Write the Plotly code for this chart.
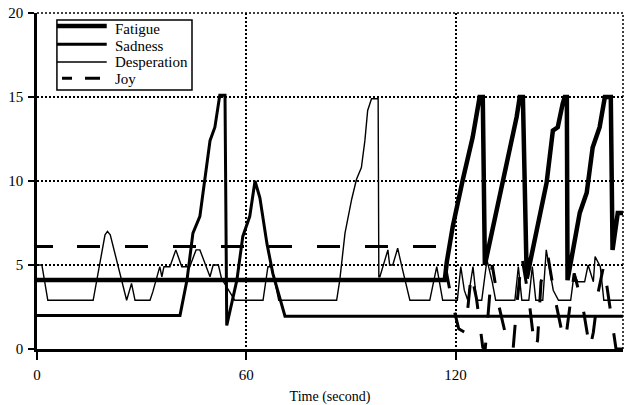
import plotly.graph_objects as go

# ---- data ----
fatigue_x = [0, 116.9, 117.5, 119.2, 122.1, 124.9, 126.9, 127.8, 128.4, 131.2, 133.2, 135.5, 137.5,
             138.4, 139.3, 140.4, 144.1, 146.1, 147.9, 149.3, 150.7, 151.3, 151.9, 152.1, 155.6,
             157.6, 159.3, 161.3, 162.8, 164.5, 165.0, 166.5, 168]
fatigue_y = [4.1, 4.1, 5.2, 7.3, 10.1, 12.6, 15, 15, 5.0, 7.7, 9.5, 12.0, 13.8,
             15, 15, 4.2, 8.1, 9.9, 13.0, 13.2, 14.6, 15, 15, 4.1, 8.1,
             9.3, 12.0, 13.2, 15, 15, 5.9, 8.1, 8.1]

sadness_x = [0, 41.0, 43.0, 44.7, 46.7, 48.1, 49.6, 51.0, 52.4, 53.9, 54.4, 57.3, 59.0, 61.0,
             62.5, 63.9, 65.9, 67.6, 71.1, 168]
sadness_y = [2.0, 2.0, 4.1, 6.9, 7.9, 10.1, 12.4, 13.2, 15.1, 15.1, 1.4, 4.1, 6.7, 7.9,
             10.0, 9.0, 6.3, 4.5, 1.95, 1.95]

desperation_x = [0, 1.4, 3.1, 16.1, 19.5, 20.2, 21.0, 25.7, 27.1, 28.1, 32.4, 33.2, 35.2, 35.8,
                 36.4, 38.1, 39.8, 41.5, 43.8, 45.6, 46.7, 48.4, 49.6, 50.5, 52.0, 52.9, 56.7,
                 64.8, 66.2, 67.3, 69.3, 85.9, 86.8, 88.3, 90.2, 91.6, 93.0, 94.0, 94.8, 95.9,
                 97.8, 98.0, 98.3, 100.6, 101.1, 102.0, 103.4, 104.6, 106.9, 112.6, 114.6, 116.3,
                 120.5, 121.5, 122.5, 123.5, 125.0, 126.0, 127.5, 129.0, 130.5, 131.5, 137.0,
                 138.0, 139.0, 141.0, 142.0, 143.0, 145.0, 146.0, 148.0, 149.5, 153.0, 154.0,
                 155.0, 157.0, 158.0, 159.5, 160.0, 161.5, 162.5, 168]
desperation_y = [5.0, 5.0, 2.9, 2.9, 6.8, 7.0, 6.8, 2.9, 3.9, 2.9, 2.9, 3.4, 4.9, 4.3,
                 4.9, 4.9, 5.9, 4.9, 4.9, 5.9, 5.9, 4.9, 4.3, 5.0, 5.0, 4.2, 2.9,
                 2.9, 4.9, 4.9, 2.9, 2.9, 4.1, 6.9, 8.9, 10.1, 10.8, 12.4, 14.2, 14.9,
                 14.9, 4.3, 4.3, 5.9, 5.0, 5.0, 6.0, 4.9, 2.9, 2.9, 4.9, 2.9,
                 2.9, 4.9, 3.5, 2.9, 4.9, 2.9, 2.9, 5.3, 4.0, 2.9, 2.9,
                 4.9, 2.9, 2.9, 4.9, 2.9, 2.9, 5.9, 3.5, 2.9, 2.9, 4.5,
                 4.0, 4.0, 5.0, 4.0, 5.5, 4.9, 2.9, 2.9]

joy_x = [0, 116.0, 118.9, 120.9, 122.6, 123.5, 124.5, 126.0, 127.8, 128.5, 129.5, 130.5, 132.5,
         135.3, 136.5, 137.5, 139.0, 141.0, 142.7, 143.5, 144.5, 146.5, 148.5, 150.5, 151.5,
         152.5, 154.0, 156.5, 158.5, 159.5, 161.0, 162.5, 164.5, 166.0, 168]
joy_y = [6.1, 6.1, 2.9, 1.2, 1.0, 2.4, 4.5, 3.0, 0.1, 0.0, 2.5, 5.0, 2.5,
         0.0, 0.0, 2.5, 5.5, 3.0, 0.0, 0.5, 4.0, 5.5, 3.0, 1.0, 0.5,
         2.0, 4.5, 2.5, 0.0, 1.0, 3.5, 5.0, 2.0, 0.0, 0.0]

series_names = ["Fatigue", "Sadness", "Desperation", "Joy"]
x_ticks = [0, 60, 120]
y_ticks = [0, 5, 10, 15, 20]
x_title = "Time (second)"

FONT = "Liberation Serif, Times New Roman, DejaVu Serif, serif"
joy_dash = "16px,24px," + ",".join(["23px,25px"] * 20)

styles = [
    dict(color="black", width=4.5),
    dict(color="black", width=3),
    dict(color="black", width=1.4),
    dict(color="black", width=3, dash=joy_dash),
]
legend_styles = [
    dict(color="black", width=4.5),
    dict(color="black", width=3),
    dict(color="black", width=1.4),
    dict(color="black", width=3, dash="10px,13px,15px,20px"),
]

fig = go.Figure()
for name, xs, ys, st in zip(series_names,
                            [fatigue_x, sadness_x, desperation_x, joy_x],
                            [fatigue_y, sadness_y, desperation_y, joy_y],
                            styles):
    fig.add_trace(go.Scatter(x=xs, y=ys, mode="lines", name=name, line=st,
                             showlegend=False))

# dotted frame on top / right
fig.add_shape(type="line", xref="paper", yref="paper", x0=1, x1=1, y0=0, y1=1,
              line=dict(color="black", width=1.5, dash="2px,2px"))
fig.add_shape(type="line", xref="paper", yref="paper", x0=0, x1=1, y0=1, y1=1,
              line=dict(color="black", width=1.5, dash="2px,2px"))

# legend box drawn by hand (compact line spacing as in the reference)
LEG_X0, LEG_X1, LEG_Y0, LEG_Y1 = 0.034, 0.2645, 0.771, 0.979
SW_X0 = [0.034, 0.034, 0.034, 0.0427]
SW_X1 = [0.119, 0.119, 0.119, 0.1075]
ROW_Y = [0.961, 0.907, 0.854, 0.806]
TXT_Y = [0.952, 0.901, 0.854, 0.803]
fig.add_shape(type="rect", xref="paper", yref="paper", x0=LEG_X0, x1=LEG_X1, y0=LEG_Y0, y1=LEG_Y1,
              line=dict(color="black", width=1.5), fillcolor="white", layer="above")
for i, name in enumerate(series_names):
    fig.add_shape(type="line", xref="paper", yref="paper", x0=SW_X0[i], x1=SW_X1[i],
                  y0=ROW_Y[i], y1=ROW_Y[i], line=legend_styles[i], layer="above")
    fig.add_annotation(xref="paper", yref="paper", x=0.1297, y=TXT_Y[i], text=name,
                       showarrow=False, xanchor="left", yanchor="middle",
                       font=dict(family=FONT, size=15, color="black"))

fig.update_layout(
    width=625, height=405,
    margin=dict(l=37, r=2, t=13, b=56),
    plot_bgcolor="white", paper_bgcolor="white",
    font=dict(family=FONT, color="black", size=15),
    showlegend=False,
)
fig.update_xaxes(range=[0, 168], tickvals=x_ticks, ticktext=[str(v) for v in x_ticks],
                 tickfont=dict(family=FONT, size=15, color="black"),
                 ticks="outside", ticklen=8, tickwidth=2, tickcolor="black",
                 showline=True, linecolor="black", linewidth=2.5,
                 showgrid=True, gridcolor="black", gridwidth=1.5, griddash="2px,2px",
                 zeroline=False, ticklabelstandoff=2, automargin=False,
                 ticklabeloverflow="allow",
                 title=dict(text=x_title, font=dict(size=14, family=FONT), standoff=10))
fig.update_yaxes(range=[0, 20], tickvals=y_ticks, ticktext=[str(v) for v in y_ticks],
                 tickfont=dict(family=FONT, size=15, color="black"),
                 ticks="outside", ticklen=6, tickwidth=2, tickcolor="black",
                 showline=True, linecolor="black", linewidth=2.5,
                 showgrid=True, gridcolor="black", gridwidth=1.5, griddash="2px,2px",
                 zeroline=False, ticklabelstandoff=2, automargin=False,
                 ticklabeloverflow="allow")

# remove the default 8px body margin so the 625x405 figure fills the window exactly
fig.write_html("out.html", config={"displayModeBar": False},
               post_script="document.body.style.margin='0px';")
